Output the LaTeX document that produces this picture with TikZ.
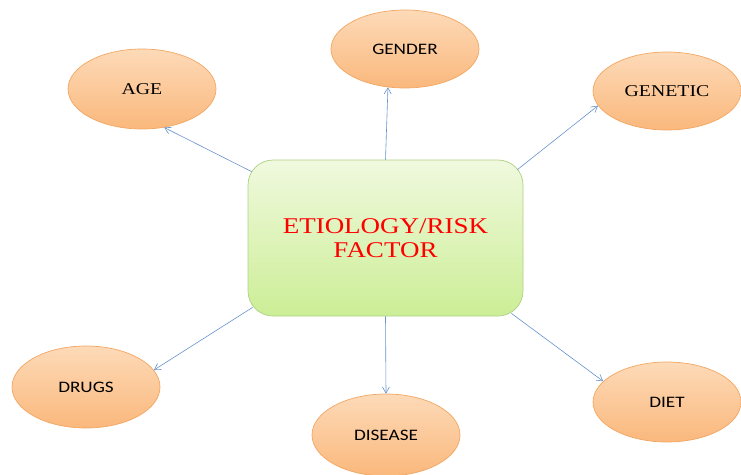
\documentclass[tikz,border=0pt]{standalone}
\usepackage{fontspec}
\setmainfont{Liberation Serif}
\newfontfamily\calib{Carlito}
\usetikzlibrary{shapes.geometric,arrows.meta,calc}
\definecolor{ovtop}{RGB}{253,218,184}
\definecolor{ovbot}{RGB}{250,184,124}
\definecolor{ovline}{RGB}{243,166,98}
\definecolor{bxtop}{RGB}{240,249,222}
\definecolor{bxbot}{RGB}{204,238,150}
\definecolor{bxline}{RGB}{172,210,132}
\definecolor{arr}{RGB}{104,146,204}
\tikzset{
  oval/.style={ellipse, draw=ovline, line width=0.7pt, top color=ovtop, bottom color=ovbot,
    minimum width=148pt, minimum height=80pt, inner sep=0pt},
  serlab/.style={font=\fontsize{16.5}{18}\selectfont},
  sanlab/.style={font=\calib\fontsize{16}{18}\selectfont},
  centerbox/.style={rectangle, rounded corners=25pt, draw=bxline, line width=0.7pt,
    top color=bxtop, bottom color=bxbot, minimum width=275pt, minimum height=156pt,
    inner sep=0pt, align=center, text=red, font=\fontsize{22.5}{24}\selectfont},
  conn/.style={draw=arr, line width=0.6pt, -{Straight Barb[length=6pt,width=7pt]}}
}
\newcommand{\widetxt}[1]{\scalebox{1.2}[1]{#1}}
\begin{document}
\begin{tikzpicture}[x=1pt,y=-1pt]
\useasboundingbox (0,0) rectangle (741,474);
\node[centerbox] (c) at (385.5,238) {\widetxt{ETIOLOGY/RISK}\\[0pt]\widetxt{FACTOR}};
\node[oval, serlab] (age) at (142,89) {\widetxt{AGE}};
\node[oval, sanlab, minimum height=78pt] (gender) at (405,49) {\widetxt{GENDER}};
\node[oval, serlab, minimum height=78pt] (genetic) at (667,91) {\widetxt{GENETIC}};
\node[oval, sanlab, minimum height=82pt] (drugs) at (86,387) {\widetxt{DRUGS}};
\node[oval, sanlab] (diet) at (667,402) {\widetxt{DIET}};
\node[oval, sanlab, minimum height=82pt] (disease) at (386,435) {\widetxt{DISEASE}};
\draw[conn] ($(c.north west)+(4,12)$) -- (age.-60);
\draw[conn] (c.north) -- (gender.-114);
\draw[conn] ($(c.north east)+(-6,10)$) -- (genetic.-168);
\draw[conn] ($(c.south west)+(5,-9)$) -- (drugs.14);
\draw[conn] (c.south) -- (disease.north);
\draw[conn] ($(c.south east)+(-12,-3)$) -- (diet.162);
\end{tikzpicture}
\end{document}
